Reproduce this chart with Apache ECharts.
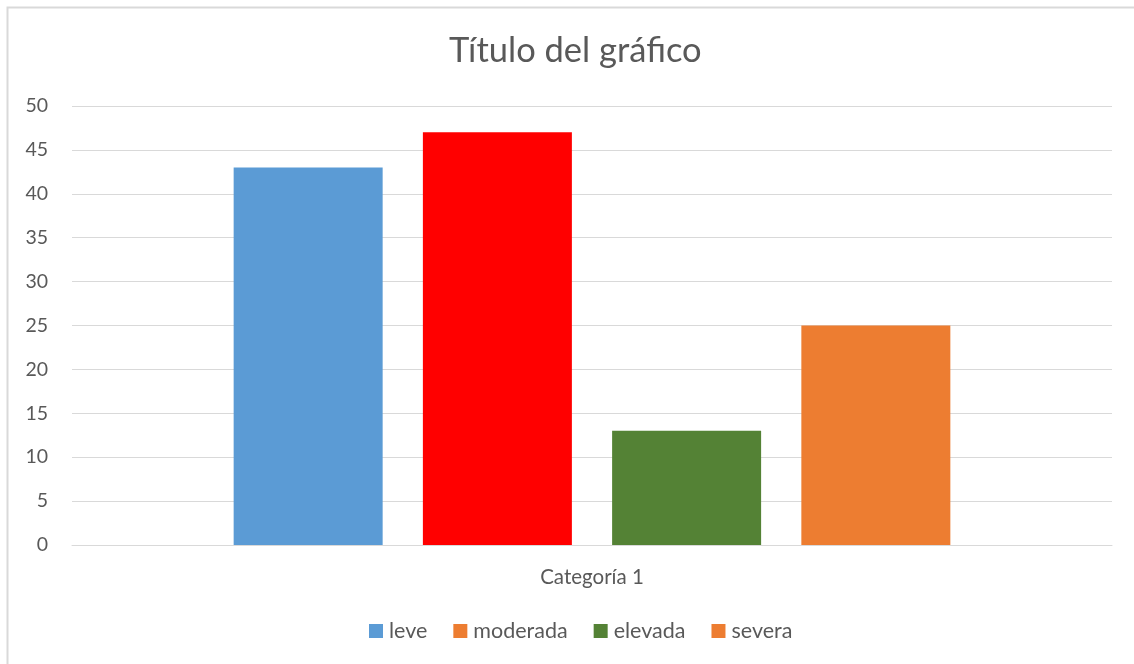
<!DOCTYPE html>
<html>
<head>
<meta charset="utf-8">
<script src="https://cdn.jsdelivr.net/npm/echarts@6/dist/echarts.min.js"></script>
<style>
html,body{margin:0;padding:0;background:#fff;}
#c{width:1134px;height:664px;}
</style>
</head>
<body>
<div id="c"></div>
<script>
const categories = ['Categoría 1'];
const seriesNames = ['leve', 'moderada', 'elevada', 'severa'];
const leve = [43];
const moderada = [47];
const elevada = [13];
const severa = [25];
const barColors = ['#5B9BD5', '#FF0000', '#548235', '#ED7D31'];
const legendColors = ['#5B9BD5', '#ED7D31', '#548235', '#ED7D31'];
const values = [leve, moderada, elevada, severa];

const FONT = 'Lato, "Open Sans", sans-serif';
const chart = echarts.init(document.getElementById('c'), null, {renderer: 'canvas'});
chart.setOption({
  animation: false,
  backgroundColor: '#fff',
  textStyle: {fontFamily: FONT},
  title: {
    text: 'Título del gráfico',
    left: 444,
    top: 28,
    textStyle: {fontFamily: FONT, fontSize: 34.5, fontWeight: 'normal', color: '#595959'}
  },
  legend: {
    bottom: 17,
    left: 364,
    itemWidth: 14,
    itemHeight: 14,
    itemGap: 26,
    icon: 'rect',
    textStyle: {fontFamily: FONT, fontSize: 21.5, color: '#595959', padding: [0, 0, 0, 1]},
    data: seriesNames.map((n, i) => ({name: n, itemStyle: {color: legendColors[i]}}))
  },
  grid: {left: 72, right: 22, top: 106, bottom: 119, containLabel: false},
  xAxis: {
    type: 'category',
    data: categories,
    axisLine: {show: true, lineStyle: {color: '#d9d9d9', width: 1}},
    axisTick: {show: false},
    axisLabel: {fontFamily: FONT, fontSize: 20.5, color: '#595959', margin: 22}
  },
  yAxis: {
    type: 'value',
    min: 0,
    max: 50,
    interval: 5,
    axisLine: {show: false},
    axisTick: {show: false},
    splitLine: {lineStyle: {color: '#d9d9d9', width: 1}},
    axisLabel: {fontFamily: FONT, fontSize: 19.5, color: '#595959', margin: 24}
  },
  graphic: [{
    type: 'rect',
    shape: {x: 7.5, y: 7.5, width: 1200, height: 700},
    style: {fill: null, stroke: '#d9d9d9', lineWidth: 2},
    silent: true
  }],
  series: seriesNames.map((n, i) => ({
    name: n,
    type: 'bar',
    data: values[i],
    barWidth: 149,
    barGap: '27%',
    itemStyle: {color: barColors[i]}
  }))
});
</script>
</body>
</html>
